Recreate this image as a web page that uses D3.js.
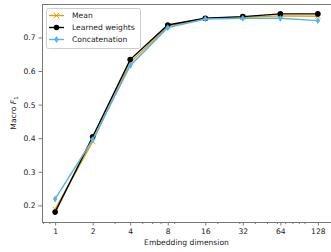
<!DOCTYPE html>
<meta charset="utf-8">
<style>
  body {margin: 0; background: #fff;}
  svg {font-family: "DejaVu Sans"; display: block;}
</style>
<svg width="331" height="252"></svg>
<script src="https://d3js.org/d3.v7.min.js"></script>
<script>
  // data
  const dims = [1, 2, 4, 8, 16, 32, 64, 128];
  const meanVals = [0.188, 0.390, 0.625, 0.733, 0.757, 0.760, 0.764, 0.763];
  const learnedVals = [0.180, 0.404, 0.634, 0.737, 0.757, 0.762, 0.770, 0.770];
  const concatVals = [0.219, 0.396, 0.616, 0.729, 0.755, 0.757, 0.757, 0.750];
  const yTicks = [0.2, 0.3, 0.4, 0.5, 0.6, 0.7];
  const minorTicks = [0.8, 0.9, 3, 5, 6, 7, 9, 20, 30, 40, 50, 60, 70, 80, 90, 100];

  const series = [
    {name: "Mean", vals: meanVals, color: "#E69F00", marker: "x"},
    {name: "Learned weights", vals: learnedVals, color: "#000000", marker: "o"},
    {name: "Concatenation", vals: concatVals, color: "#56B4E9", marker: "d"}
  ];

  const svg = d3.select("svg");
  const pLeft = 42, pRight = 331, pTop = 4, pBottom = 222;

  // log x with 5% margins in log space
  const lo = Math.log2(1), hi = Math.log2(128), pad = (hi - lo) * 0.05;
  const x = d3.scaleLog().base(2)
    .domain([Math.pow(2, lo - pad), Math.pow(2, hi + pad)])
    .range([pLeft, pRight]);
  const y = d3.scaleLinear().domain([0.1505, 0.7995]).range([pBottom, pTop]);

  // axes
  svg.append("g").attr("transform", `translate(0,${pBottom})`)
    .call(d3.axisBottom(x).tickValues(dims).tickFormat(d3.format("d")).tickSize(3.5).tickPadding(3));
  svg.append("g").attr("transform", `translate(0,${pBottom})`)
    .call(d3.axisBottom(x).tickValues(minorTicks).tickFormat("").tickSize(2));
  svg.append("g").attr("transform", `translate(${pLeft},0)`)
    .call(d3.axisLeft(y).tickValues(yTicks).tickFormat(d3.format(".1f")).tickSize(3.5).tickPadding(3));

  svg.selectAll(".tick text").attr("font-size", 7.6).attr("fill", "#222").attr("font-family", "DejaVu Sans");
  svg.selectAll(".tick line").attr("stroke", "#444").attr("stroke-width", 0.7);
  svg.selectAll(".domain").remove();

  // spines
  svg.append("line").attr("x1", pLeft).attr("x2", pRight).attr("y1", pTop + 0.5).attr("y2", pTop + 0.5)
    .attr("stroke", "#777").attr("stroke-width", 1);
  svg.append("line").attr("x1", pLeft).attr("x2", pRight).attr("y1", pBottom + 0.5).attr("y2", pBottom + 0.5)
    .attr("stroke", "#777").attr("stroke-width", 1);
  svg.append("line").attr("x1", pLeft + 0.5).attr("x2", pLeft + 0.5).attr("y1", pTop).attr("y2", pBottom)
    .attr("stroke", "#777").attr("stroke-width", 1);

  // markers
  function drawMarker(g, kind, cx, cy, color) {
    if (kind === "o") {
      g.append("circle").attr("cx", cx).attr("cy", cy).attr("r", 2.8).attr("fill", color);
    } else if (kind === "x") {
      const s = 2.6;
      g.append("path").attr("d", `M${cx - s},${cy - s}L${cx + s},${cy + s}M${cx - s},${cy + s}L${cx + s},${cy - s}`)
        .attr("stroke", color).attr("stroke-width", 1);
    } else {
      const w = 2.3, h = 3.4;
      g.append("path").attr("d", `M${cx},${cy - h}L${cx + w},${cy}L${cx},${cy + h}L${cx - w},${cy}Z`)
        .attr("fill", color);
    }
  }

  const line = d3.line().x((d, i) => x(dims[i])).y(d => y(d));
  series.forEach(s => {
    const g = svg.append("g");
    g.append("path").datum(s.vals).attr("d", line)
      .attr("fill", "none").attr("stroke", s.color).attr("stroke-width", 1.4);
    s.vals.forEach((v, i) => drawMarker(g, s.marker, x(dims[i]), y(v), s.color));
  });

  // legend
  const lg = svg.append("g");
  lg.append("rect").attr("x", 46.5).attr("y", 8.5).attr("width", 94).attr("height", 40).attr("rx", 2)
    .attr("fill", "#fff").attr("fill-opacity", 0.8).attr("stroke", "#ccc").attr("stroke-width", 1);
  series.forEach((s, i) => {
    const ly = 15.5 + i * 12;
    lg.append("line").attr("x1", 49).attr("x2", 64).attr("y1", ly).attr("y2", ly)
      .attr("stroke", s.color).attr("stroke-width", 1.4);
    drawMarker(lg, s.marker, 56.5, ly, s.color);
    lg.append("text").attr("x", 72).attr("y", ly + 2.8).attr("font-size", 7.6).attr("fill", "#222")
      .text(s.name);
  });

  // axis labels
  svg.append("text").attr("x", (pLeft + pRight) / 2).attr("y", 245).attr("text-anchor", "middle")
    .attr("font-size", 7.6).attr("fill", "#222").text("Embedding dimension");
  const yl = svg.append("text").attr("transform", `translate(16,${(pTop + pBottom) / 2}) rotate(-90)`)
    .attr("text-anchor", "middle").attr("font-size", 7.6).attr("fill", "#222");
  yl.append("tspan").text("Macro ");
  yl.append("tspan").attr("font-style", "italic").text("F");
  yl.append("tspan").attr("font-size", 5.5).attr("dy", 1.5).text("1");
</script>
